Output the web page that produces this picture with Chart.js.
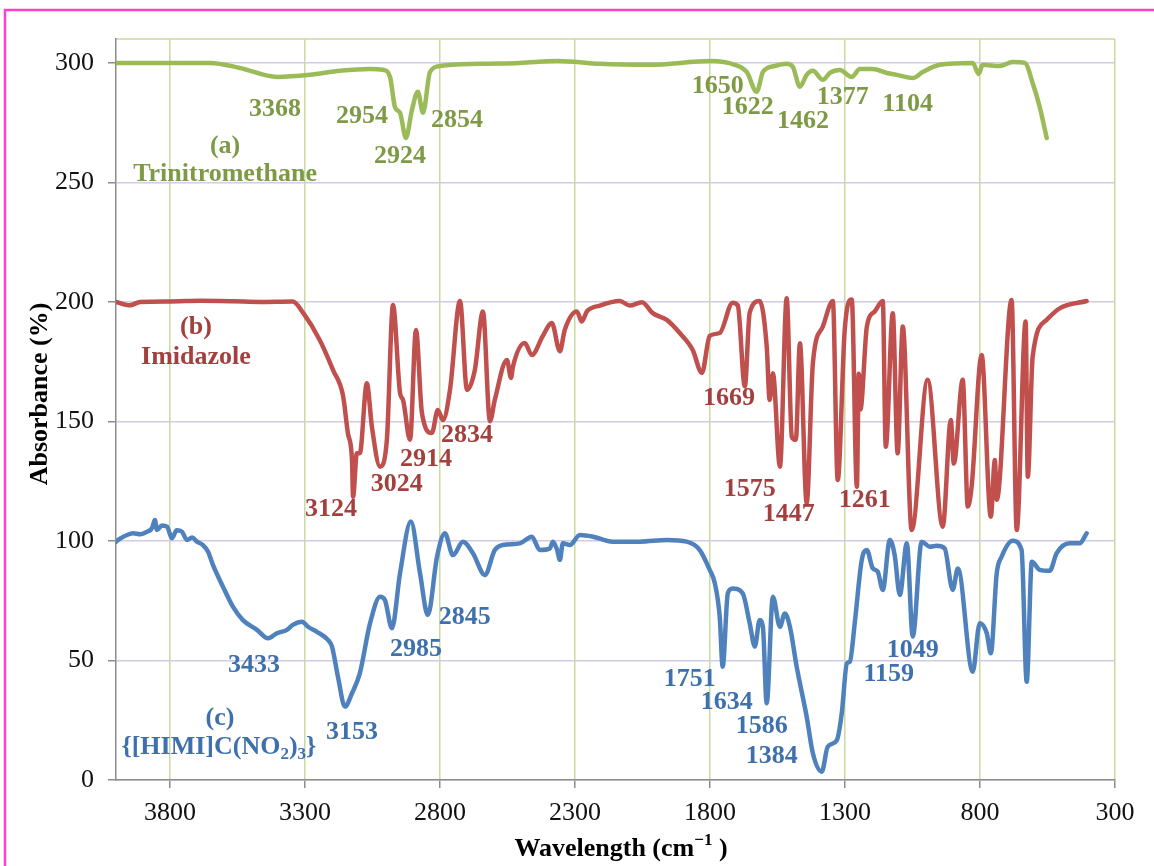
<!DOCTYPE html>
<html>
<head>
<meta charset="utf-8">
<script src="https://cdn.jsdelivr.net/npm/chart.js@4.4.1/dist/chart.umd.min.js"></script>
<style>
  html, body { margin: 0; padding: 0; background: #fff; }
  #wrap { width: 1154px; height: 866px; position: relative; }
</style>
</head>
<body>
<div id="wrap"><canvas id="irChart"></canvas></div>
<script>
// wavenumbers (cm-1) and absorbance
const greenWave = [4000, 3800, 3652, 3541, 3404, 3282, 3171, 3060, 3011, 2985, 2967, 2948, 2926, 2904, 2882, 2863, 2837, 2800, 2652, 2504, 2363, 2208, 2023, 1797, 1708, 1664, 1627, 1604, 1560, 1516, 1493, 1467, 1442, 1419, 1382, 1356, 1319, 1275, 1245, 1197, 1145, 1108, 1049, 1012, 949, 827, 805, 790, 727, 679, 634, 605, 579, 553];
const greenAbs = [300, 300, 300, 297.9, 294.1, 295, 296.7, 297.5, 297.1, 294.1, 281.6, 279.1, 268.6, 280.3, 287.9, 279.1, 296.2, 298.7, 299.6, 300, 300.8, 299.6, 299.2, 300.8, 299.2, 296.2, 287.9, 296.2, 298.7, 299.6, 298.3, 290, 295, 296.7, 292.9, 295.8, 297, 294.1, 297.5, 297.5, 295.8, 295, 293.7, 296.2, 299.2, 300, 295.4, 299.2, 298.7, 300.4, 300, 291.6, 281.6, 268.6];

const redWave = [4000, 3948, 3911, 3800, 3689, 3567, 3467, 3345, 3308, 3245, 3196, 3159, 3141, 3126, 3122, 3108, 3097, 3071, 3052, 3022, 2997, 2974, 2948, 2937, 2911, 2889, 2867, 2830, 2808, 2789, 2763, 2726, 2700, 2671, 2641, 2615, 2597, 2552, 2537, 2530, 2486, 2460, 2419, 2386, 2356, 2338, 2293, 2275, 2256, 2208, 2134, 2097, 2052, 2012, 1960, 1912, 1864, 1830, 1801, 1764, 1716, 1697, 1671, 1653, 1616, 1590, 1579, 1567, 1541, 1516, 1497, 1482, 1467, 1442, 1419, 1382, 1345, 1327, 1301, 1275, 1256, 1249, 1243, 1219, 1190, 1160, 1149, 1123, 1105, 1086, 1053, 994, 938, 908, 897, 864, 845, 831, 794, 760, 745, 738, 683, 664, 631, 623, 605, 553, 505, 405];
const redAbs = [200, 198.6, 200, 200.2, 200.5, 200.3, 200, 200.2, 195.6, 184, 171.5, 160.7, 145, 134, 118.5, 136.7, 136.7, 166, 147.6, 131.1, 142, 198.7, 161.9, 159, 142.3, 188.3, 153.6, 145.2, 154.8, 150.6, 163.2, 200.4, 163.2, 171.5, 196, 150.1, 159, 175.7, 168.2, 172.9, 182.8, 177.8, 185.8, 191.2, 179.4, 188.3, 196, 191.8, 196, 198.5, 200.4, 198.5, 199.9, 195.3, 192.5, 187, 179.9, 170.3, 185.8, 187, 199.7, 198.5, 164.6, 195.5, 200.4, 181.5, 159, 170.2, 131.1, 201.5, 143.6, 142.3, 182.7, 115.9, 174.3, 189.7, 200.4, 125.5, 188.3, 201, 122.7, 170, 155, 189.7, 196, 200.4, 139.4, 195.3, 136.7, 189.7, 104.6, 167.4, 106, 150.6, 132.4, 167.4, 114.4, 122.8, 177.8, 110.2, 133.9, 117.2, 200.8, 104.6, 191.8, 126.9, 177.1, 192.5, 197.3, 200.4];

const blueWave = [4000, 3985, 3959, 3937, 3910, 3885, 3866, 3856, 3848, 3830, 3811, 3793, 3775, 3756, 3737, 3718, 3700, 3678, 3659, 3641, 3604, 3567, 3530, 3478, 3437, 3404, 3367, 3345, 3311, 3289, 3256, 3215, 3200, 3178, 3152, 3126, 3097, 3059, 3022, 3004, 2978, 2948, 2908, 2874, 2845, 2811, 2782, 2752, 2715, 2678, 2634, 2597, 2567, 2504, 2460, 2430, 2393, 2382, 2367, 2356, 2345, 2319, 2282, 2234, 2160, 2060, 1960, 1886, 1838, 1801, 1782, 1764, 1753, 1734, 1716, 1679, 1653, 1634, 1616, 1604, 1590, 1567, 1541, 1523, 1504, 1479, 1442, 1419, 1386, 1364, 1330, 1312, 1293, 1282, 1264, 1238, 1219, 1197, 1179, 1160, 1134, 1116, 1097, 1071, 1049, 1016, 986, 960, 931, 901, 882, 827, 801, 775, 760, 738, 720, 679, 646, 627, 608, 579, 542, 516, 468, 431, 405];
const blueAbs = [99.7, 101, 102.5, 103.2, 102.8, 103.9, 105.5, 108.8, 104.6, 106.5, 106, 101.1, 104.5, 103.9, 100.4, 101.5, 99.7, 98.3, 95.5, 90, 80.9, 72.5, 66.9, 62.8, 59.3, 61.4, 62.8, 64.9, 66.2, 64.1, 62, 58.6, 55.8, 43.2, 30.7, 36.3, 44.6, 65.6, 76.7, 75.3, 63.5, 86.5, 108.1, 86.5, 69, 93.4, 103.2, 94.1, 99.7, 94.9, 85.8, 96.2, 98.3, 99, 101.8, 96.2, 96.9, 99.7, 96.5, 92.1, 99, 98.3, 102.5, 101.8, 99.7, 99.7, 100.4, 99.7, 96.2, 87.9, 82.3, 68.3, 47.4, 78.1, 80.1, 78.1, 65.6, 55.8, 66.9, 64, 32.1, 76.7, 64.1, 69.7, 64.1, 47.4, 26.5, 11.2, 3.5, 13.9, 16.7, 27.9, 48.8, 49.5, 65.6, 92, 96.2, 88.5, 87.2, 79.5, 100.4, 94.1, 77.4, 99, 60, 99.7, 97.6, 98, 96.9, 79.5, 88.5, 45.3, 65.6, 61.4, 53, 86.5, 93.4, 100.1, 96.2, 41.1, 91.3, 87.9, 87.5, 94.9, 99, 99, 103.2];

const xTickValues = [3800, 3300, 2800, 2300, 1800, 1300, 800, 300];
const yTickValues = [0, 50, 100, 150, 200, 250, 300];

const seriesTags = ['(a)', '(b)', '(c)'];
const compoundNames = ['Trinitromethane', 'Imidazole', '{[HIMI]C(NO2)3}'];

const greenPeaks = ['3368', '2954', '2924', '2854', '1650', '1622', '1462', '1377', '1104'];
const redPeaks = ['3124', '3024', '2914', '2834', '1669', '1575', '1447', '1261'];
const bluePeaks = ['3433', '3153', '2985', '2845', '1751', '1634', '1586', '1384', '1049', '1159'];

// where each label sits, in axis units
const greenPeakPos = [[3411, 280.8], [3089, 277.8], [2948, 261.1], [2737, 276.2], [1771, 290.4], [1660, 281.6], [1456, 275.7], [1308, 285.8], [1068, 282.8]];
const redPeakPos = [[3204, 113.4], [2960, 123.8], [2852, 134.3], [2700, 144.4], [1730, 159.8], [1653, 121.8], [1508, 111.3], [1227, 117.2]];
const bluePeakPos = [[3489, 48.1], [3126, 20.1], [2889, 54.8], [2708, 68.2], [1875, 42.3], [1738, 32.6], [1608, 22.6], [1571, 10], [1049, 54.4], [1138, 44.4]];
const tagPos = [[3596, 265.3], [3704, 189.5], [3615, 25.9]];
const namePos = [[3596, 253.6], [3704, 177], [3619, 13.8]];

const lineColors = ['#9BBB59', '#C0504D', '#4F81BD'];
const textColors = ['#7E9A45', '#A3403D', '#3E70AE'];
const serif = "'Liberation Serif', 'Times New Roman', serif";

function toPoints(xs, ys) {
    return xs.map((x, i) => ({ x: x, y: ys[i] }));
}

function drawRich(ctx, parts, cx, cy, size) {
    // parts: [text, 1 = subscript, -1 = superscript]
    let widths = parts.map(p => {
        ctx.font = 'bold ' + (p[1] ? Math.round(size * 0.65) : size) + 'px ' + serif;
        return ctx.measureText(p[0]).width;
    });
    let total = widths.reduce((a, b) => a + b, 0);
    let x = cx - total / 2;
    parts.forEach((p, i) => {
        ctx.font = 'bold ' + (p[1] ? Math.round(size * 0.65) : size) + 'px ' + serif;
        ctx.textAlign = 'left';
        ctx.fillText(p[0], x, cy + (p[1] === 1 ? size * 0.3 : p[1] === -1 ? -size * 0.32 : 0));
        x += widths[i];
    });
}

const decorPlugin = {
    id: 'decor',
    beforeDraw(chart) {
        const ctx = chart.ctx;
        const a = chart.chartArea;
        ctx.save();
        // pink frame
        ctx.strokeStyle = '#FF3FCF';
        ctx.lineWidth = 2.5;
        ctx.beginPath();
        ctx.moveTo(5, 870);
        ctx.lineTo(5, 10);
        ctx.lineTo(1160, 10);
        ctx.stroke();
        // plot area top edge
        ctx.strokeStyle = '#C9DA9F';
        ctx.lineWidth = 1.5;
        ctx.beginPath();
        ctx.moveTo(a.left, a.top);
        ctx.lineTo(a.right, a.top);
        ctx.stroke();
        ctx.restore();
    },
    afterDatasetsDraw(chart) {
        const ctx = chart.ctx;
        const xs = chart.scales.x;
        const ys = chart.scales.y;
        ctx.save();
        ctx.textBaseline = 'middle';
        ctx.textAlign = 'center';
        const groups = [[greenPeaks, greenPeakPos], [redPeaks, redPeakPos], [bluePeaks, bluePeakPos]];
        groups.forEach((g, k) => {
            ctx.fillStyle = textColors[k];
            ctx.font = 'bold 26px ' + serif;
            g[0].forEach((t, i) => {
                ctx.fillText(t, xs.getPixelForValue(g[1][i][0]), ys.getPixelForValue(g[1][i][1]));
            });
            ctx.fillText(seriesTags[k], xs.getPixelForValue(tagPos[k][0]), ys.getPixelForValue(tagPos[k][1]));
            const nx = xs.getPixelForValue(namePos[k][0]);
            const ny = ys.getPixelForValue(namePos[k][1]);
            if (k === 2) {
                drawRich(ctx, [['{[HIMI]C(NO', 0], ['2', 1], [')', 0], ['3', 1], ['}', 0]], nx, ny, 26);
                ctx.textAlign = 'center';
            } else {
                ctx.fillText(compoundNames[k], nx, ny);
            }
        });
        ctx.restore();
    },
    afterDraw(chart) {
        const ctx = chart.ctx;
        ctx.save();
        ctx.fillStyle = '#000';
        ctx.textBaseline = 'middle';
        // y axis title
        ctx.translate(40, 394);
        ctx.rotate(-Math.PI / 2);
        ctx.textAlign = 'center';
        ctx.font = 'bold 26px ' + serif;
        ctx.fillText('Absorbance (%)', 0, 0);
        ctx.restore();
        ctx.save();
        ctx.fillStyle = '#000';
        ctx.textBaseline = 'middle';
        drawRich(ctx, [['Wavelength (cm', 0], ['\u22121', -1], [' )', 0]], 621, 849, 26);
        ctx.restore();
    }
};

function initChart() {
    const ctx = document.getElementById('irChart').getContext('2d');
    const fontTicks = { family: serif, size: 26 };

    new Chart(ctx, {
        type: 'line',
        data: {
            datasets: [
                { label: compoundNames[0], data: toPoints(greenWave, greenAbs), borderColor: lineColors[0] },
                { label: compoundNames[1], data: toPoints(redWave, redAbs), borderColor: lineColors[1] },
                { label: compoundNames[2], data: toPoints(blueWave, blueAbs), borderColor: lineColors[2] }
            ]
        },
        options: {
            responsive: true,
            maintainAspectRatio: false,
            animation: false,
            layout: { padding: { top: 39, right: 39, left: 0, bottom: 0 } },
            elements: {
                point: { radius: 0 },
                line: { borderWidth: 4.5, cubicInterpolationMode: 'monotone', borderJoinStyle: 'round', borderCapStyle: 'round' }
            },
            plugins: {
                legend: { display: false },
                tooltip: { enabled: false }
            },
            scales: {
                x: {
                    type: 'linear',
                    reverse: true,
                    min: 300,
                    max: 4000,
                    afterBuildTicks: s => { s.ticks = xTickValues.map(v => ({ value: v })); },
                    afterFit: s => { s.height = 86; },
                    grid: { color: '#C9DA9F', lineWidth: 1.5, tickColor: '#8C8C8C', tickLength: 8 },
                    border: { color: '#8C8C8C', width: 1.5 },
                    ticks: {
                        color: '#111', font: fontTicks, padding: 10, maxRotation: 0, autoSkip: false,
                        callback: v => String(v)
                    }
                },
                y: {
                    min: 0,
                    max: 310,
                    afterBuildTicks: s => { s.ticks = yTickValues.map(v => ({ value: v })); },
                    afterFit: s => { s.width = 116; },
                    grid: { color: '#D3CAE4', lineWidth: 1.5, tickColor: '#8C8C8C', tickLength: 8 },
                    border: { color: '#8C8C8C', width: 1.5 },
                    ticks: { color: '#111', font: fontTicks, padding: 14, callback: v => String(v) }
                }
            }
        },
        plugins: [decorPlugin]
    });
}

window.addEventListener('load', initChart);
</script>
</body>
</html>
